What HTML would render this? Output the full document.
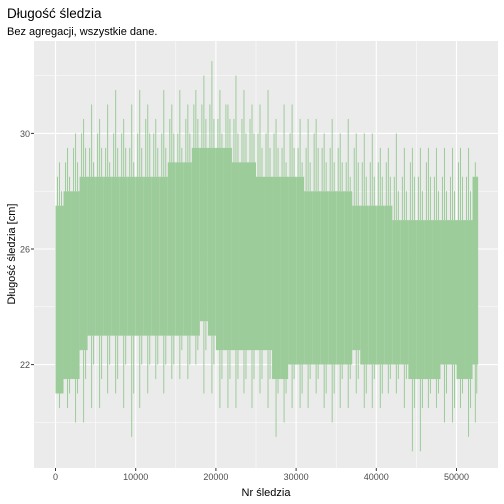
<!DOCTYPE html>
<html><head><meta charset="utf-8"><style>
body{margin:0;background:#fff;}
svg{display:block;font-family:"Liberation Sans",sans-serif;}
</style></head><body>
<svg id="c" width="504" height="504">
<rect x="0" y="0" width="504" height="504" fill="#fff"/>
<rect x="34" y="41" width="464" height="427" fill="#EBEBEB"/>
<g id="grid"></g>
<g id="marks"></g>
<g id="axes"></g>
<text x="7" y="18" font-size="13.5" fill="#000">Długość śledzia</text>
<text x="7" y="35" font-size="11" fill="#000">Bez agregacji, wszystkie dane.</text>
<text x="266" y="496" font-size="11" text-anchor="middle" fill="#000">Nr śledzia</text>
<text transform="translate(15,254) rotate(-90)" font-size="11" text-anchor="middle" fill="#000">Długość śledzia [cm]</text>
</svg>
<script>
const binStarts = [0,1000,2000,3000,4000,5000,6000,7000,8000,9000,10000,11000,12000,13000,14000,15000,16000,17000,18000,19000,20000,21000,22000,23000,24000,25000,26000,27000,28000,29000,30000,31000,32000,33000,34000,35000,36000,37000,38000,39000,40000,41000,42000,43000,44000,45000,46000,47000,48000,49000,50000,51000,52000];
const denseTop = [27.5,28,28,28.5,28.5,28.5,28.5,28.5,28.5,28.5,28.5,28.5,28.5,28.5,29,29,29,29.5,29.5,29.5,29.5,29.5,29,29,29,28.5,28.5,28.5,28.5,28.5,28.5,28,28,28,28,28,28,27.5,27.5,27.5,27.5,27.5,27,27,27,27,27,27,27,27,27,27,28.5];
const denseLow = [21,21.5,21.5,22.5,23,23,23,23,23,23,23,23,23,23,23,23,23,23,23.5,23,22.5,22.5,22.5,22.5,22.5,22.5,22.5,21.5,21.5,22,22,22,22,22,22,22,22,22.5,22,22,22,22,22,22,21.5,21.5,21.5,21.5,22,22,21.5,21.5,22];
const maxVals = [29,29.5,30,30.5,31,30.5,31,31.5,30.5,31,31.5,31,30.5,31.5,31,31.5,31,31.5,32,32.5,31.5,31,32,31.5,31,31,31.5,30.5,31,31,30.5,30.5,30.5,30,30.5,30,30.5,30,30,30,29.5,29.5,30,29.5,29.5,29.5,29.5,29.5,29.5,29.5,29.5,29.5,29];
const minVals = [20.5,20.5,20,20,20.5,20.5,21,21,20.5,19.5,20.5,21,21.5,21,21.5,21.5,21.5,22,21,21,20.5,20.5,20.5,21,20.5,21,20.5,19.5,20,20.5,20.5,20.5,21,20.5,20,20.5,20.5,21,20.5,20.5,20.5,21,21,20.5,19,19,20.5,20.5,20,20,20.5,19.5,20];
const maxVals2 = [28.5,29,29.5,30,29.5,30,29.5,30,30,29.5,30,30.5,30,30,30.5,30,30.5,31,31,31,30.5,31,30.5,30.5,30.5,30,30,30,29.5,30,29.5,29.5,30,29.5,29.5,29.5,29,29.5,29,29,29,29,28.5,28.5,29,28.5,29,28.5,28.5,28.5,29,28.5,28.5];
const minVals2 = [21,21,21,21.5,22,21.5,22,21.5,22,21,22,22,22,22,22,22.5,22,22.5,22.5,22,21.5,21.5,21.5,21.5,21.5,21.5,21.5,21,21,21.5,21,21.5,21.5,21,21,21.5,21.5,21.5,21,21.5,21,21.5,21.5,21.5,20.5,20.5,21,21,21,20.5,21,20.5,21];
const xTicks = [0,10000,20000,30000,40000,50000];
const yTicks = [22,26,30];
const yMinor = [20,24,28,32];
const xMinor = [5000,15000,25000,35000,45000];
const dataEnd = 52700;

const X = v => 55.5 + v * 0.00802;
const Y = v => 249 - (v - 26) * 28.9;
const NS = "http://www.w3.org/2000/svg";
function mk(tag, attrs, parent){const e=document.createElementNS(NS,tag);for(const k in attrs)e.setAttribute(k,attrs[k]);parent.appendChild(e);return e;}
const grid=document.getElementById('grid'), marks=document.getElementById('marks'), axes=document.getElementById('axes');

yMinor.forEach(v=>{const l=mk('line',{x1:34,x2:498,y1:Y(v),y2:Y(v),stroke:'#fff','stroke-width':0.5},grid);

});
xMinor.forEach(v=>{const l=mk('line',{x1:X(v),x2:X(v),y1:41,y2:468,stroke:'#fff','stroke-width':0.5},grid);

});
yTicks.forEach(v=>{const l=mk('line',{x1:34,x2:498,y1:Y(v),y2:Y(v),stroke:'#fff','stroke-width':1.1},grid);


const t=mk('text',{x:30,y:Y(v)+3.5,'font-size':9,'text-anchor':'end',fill:'#4D4D4D'},axes);t.textContent=v;


const tk=mk('line',{x1:31,x2:34,y1:Y(v),y2:Y(v),stroke:'#333','stroke-width':1},axes);

});
xTicks.forEach(v=>{const l=mk('line',{x1:X(v),x2:X(v),y1:41,y2:468,stroke:'#fff','stroke-width':1.1},grid);


const t=mk('text',{x:X(v),y:480,'font-size':9,'text-anchor':'middle',fill:'#4D4D4D'},axes);t.textContent=v;


const tk=mk('line',{x1:X(v),x2:X(v),y1:468,y2:471,stroke:'#333','stroke-width':1},axes);

});

const col='#9CCC9A';
binStarts.forEach((s,i)=>{
  const e=Math.min(s+1000,dataEnd);
  const r=mk('rect',{x:X(s),y:Y(denseTop[i]),width:X(e)-X(s),height:Y(denseLow[i])-Y(denseTop[i]),fill:col},marks);
  
  
  const cx=X((s+e)/2), qx=X(s+(e-s)*0.25), tx=X(s+(e-s)*0.75);
  const a=mk('line',{x1:cx,x2:cx,y1:Y(maxVals[i]),y2:Y(denseTop[i]),stroke:col,'stroke-width':1},marks);
  
  
  const b=mk('line',{x1:cx,x2:cx,y1:Y(denseLow[i]),y2:Y(minVals[i]),stroke:col,'stroke-width':1},marks);
  
  
  const c=mk('line',{x1:qx,x2:qx,y1:Y(maxVals2[i]),y2:Y(denseTop[i]),stroke:col,'stroke-width':1},marks);
  
  
  const d=mk('line',{x1:tx,x2:tx,y1:Y(denseLow[i]),y2:Y(minVals2[i]),stroke:col,'stroke-width':1},marks);
  
  
  const f=mk('line',{x1:tx,x2:tx,y1:Y(maxVals2[i]-0.5),y2:Y(denseTop[i]),stroke:col,'stroke-width':1},marks);
  
  
});
</script>
</body></html>
